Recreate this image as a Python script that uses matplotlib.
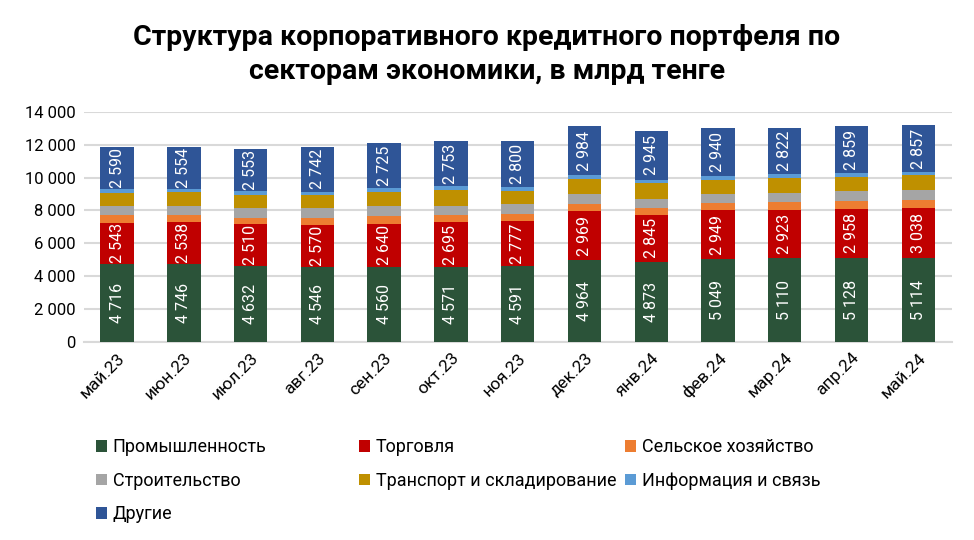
import numpy as np
import matplotlib.pyplot as plt
from matplotlib.patches import Patch

plt.rcParams['font.family'] = ['Roboto', 'DejaVu Sans']

months = ['май.23', 'июн.23', 'июл.23', 'авг.23', 'сен.23', 'окт.23', 'ноя.23',
          'дек.23', 'янв.24', 'фев.24', 'мар.24', 'апр.24', 'май.24']

industry = [4716, 4746, 4632, 4546, 4560, 4571, 4591, 4964, 4873, 5049, 5110, 5128, 5114]
trade = [2543, 2538, 2510, 2570, 2640, 2695, 2777, 2969, 2845, 2949, 2923, 2958, 3038]
agriculture = [430, 420, 410, 400, 430, 430, 400, 440, 444, 445, 470, 480, 456]
construction = [550, 570, 610, 600, 610, 600, 600, 600, 550, 530, 550, 590, 610]
transport = [820, 830, 750, 810, 870, 930, 810, 940, 950, 900, 916, 873, 915]
telecom = [213, 204, 257, 207, 235, 231, 232, 229, 214, 210, 232, 238, 197]
other = [2590, 2554, 2553, 2742, 2725, 2753, 2800, 2984, 2945, 2940, 2822, 2859, 2857]

series = [
    ('Промышленность', industry, '#2B5339', True),
    ('Торговля', trade, '#C00000', True),
    ('Сельское хозяйство', agriculture, '#ED7D31', False),
    ('Строительство', construction, '#A5A5A5', False),
    ('Транспорт и складирование', transport, '#BF9000', False),
    ('Информация и связь', telecom, '#5B9BD5', False),
    ('Другие', other, '#2F5597', True),
]

fig = plt.figure(figsize=(9.74, 5.4), dpi=100)
ax = fig.add_axes([0.086, 0.367, 0.891, 0.426])

x = np.arange(len(months))
bottom = np.zeros(len(months))
handles = {}
for name, vals, color, labeled in series:
    vals = np.array(vals, dtype=float)
    ax.bar(x, vals, bottom=bottom, width=0.5, color=color, zorder=3)
    handles[name] = Patch(facecolor=color)
    if labeled:
        for xi, b, v in zip(x, bottom, vals):
            ax.text(xi, b + v / 2, f"{int(v):,}".replace(',', ' '), rotation=90,
                    ha='center', va='center', color='white', fontsize=11.5, zorder=4)
    bottom += vals

ax.set_ylim(0, 14000)
ax.set_xlim(-0.5, len(months) - 0.5)
ax.set_yticks(np.arange(0, 14001, 2000))
ax.set_yticklabels([f"{v:,}".replace(',', ' ') for v in range(0, 14001, 2000)], fontsize=12)
ax.set_xticks(x)
ax.set_xticklabels(months, rotation=45, ha='right', rotation_mode='anchor', fontsize=12.5)
ax.tick_params(axis='both', length=0, pad=6)
ax.grid(axis='y', color='#D9D9D9', linewidth=1.5, zorder=0)
for s in ['top', 'right', 'left']:
    ax.spines[s].set_visible(False)
ax.spines['bottom'].set_color('#D9D9D9')
ax.spines['bottom'].set_linewidth(1.5)

fig.text(0.5, 0.955, 'Структура корпоративного кредитного портфеля по\nсекторам экономики, в млрд тенге',
         ha='center', va='top', fontsize=20.5, fontweight='bold', linespacing=1.3)

cols = [
    (0.099, ['Промышленность', 'Строительство', 'Другие']),
    (0.369, ['Торговля', 'Транспорт и складирование']),
    (0.642, ['Сельское хозяйство', 'Информация и связь']),
]
for xpos, names in cols:
    fig.legend([handles[n] for n in names], names, loc='upper left',
               bbox_to_anchor=(xpos, 0.188), frameon=False, fontsize=13,
               handlelength=0.6, handleheight=0.6, handletextpad=0.3,
               labelspacing=0.85, borderpad=0, borderaxespad=0)

plt.savefig('out.png', dpi=100)
